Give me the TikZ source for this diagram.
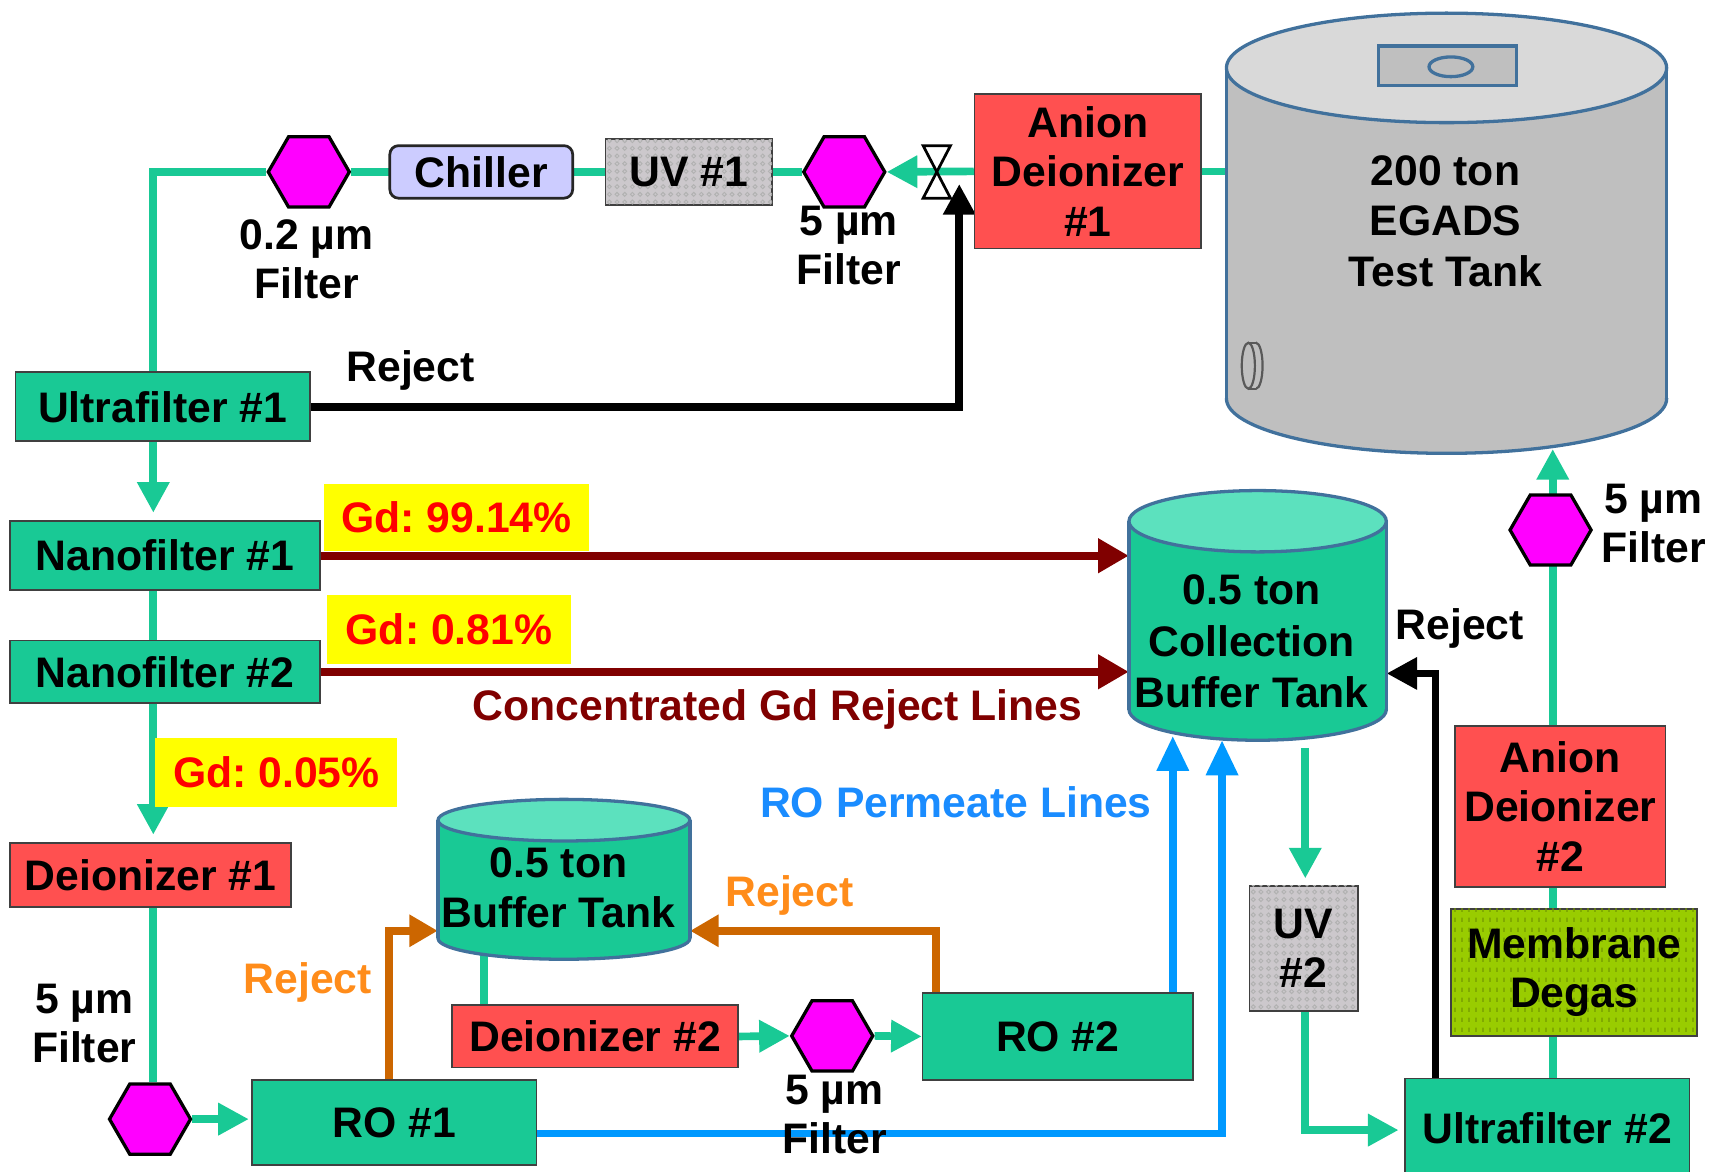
\documentclass[tikz,border=0pt]{standalone}
\usepackage{fontspec}
\setmainfont{Liberation Sans}
\usetikzlibrary{arrows.meta,shapes.geometric,backgrounds,patterns}

\definecolor{tealbox}{HTML}{19C995}
\definecolor{teallight}{HTML}{5CE1BE}
\definecolor{redbox}{HTML}{FF5050}
\definecolor{lavender}{HTML}{CCCCFF}
\definecolor{hexfill}{HTML}{FF00FF}
\definecolor{maroonline}{HTML}{800000}
\definecolor{gdyellow}{HTML}{FFFF00}
\definecolor{gdred}{HTML}{FF0000}
\definecolor{permblue}{HTML}{0099FF}
\definecolor{permtext}{HTML}{1A8CFF}
\definecolor{rejorange}{HTML}{CC6600}
\definecolor{rejtext}{HTML}{FF8C1A}
\definecolor{tankedgec}{HTML}{41719C}
\definecolor{tankside}{HTML}{BFBFBF}
\definecolor{tanktop}{HTML}{D9D9D9}
\definecolor{limebox}{HTML}{99CC00}
\definecolor{uvgray}{HTML}{CCC8CC}

% small rings for the UV lamp housings
\pgfdeclarepatternformonly{uvrings}{\pgfqpoint{-1pt}{-1pt}}{\pgfqpoint{8pt}{8pt}}{\pgfqpoint{7pt}{7pt}}{%
  \pgfsetlinewidth{0.9pt}%
  \pgfpathcircle{\pgfqpoint{3.5pt}{3.5pt}}{1.8pt}%
  \pgfusepath{stroke}}
% short vertical strokes for the degas membrane
\pgfdeclarepatternformonly{degasticks}{\pgfqpoint{0pt}{0pt}}{\pgfqpoint{6pt}{9pt}}{\pgfqpoint{6pt}{9pt}}{%
  \pgfsetlinewidth{1.2pt}%
  \pgfpathmoveto{\pgfqpoint{3pt}{2pt}}%
  \pgfpathlineto{\pgfqpoint{3pt}{6pt}}%
  \pgfusepath{stroke}}

% cylinder: centre x, top y, bottom y, x radius, y radius, body colour, lid colour
\newcommand{\cylshape}[7]{%
  \fill[#6] (#1-#4,#2) rectangle (#1+#4,#3);
  \fill[#6] (#1,#3) ellipse [x radius=#4, y radius=#5];
  \begin{scope}
    \clip (#1-#4-10,#3) rectangle (#1+#4+10,#3+#5+10);
    \draw[tankedge] (#1,#3) ellipse [x radius=#4, y radius=#5];
  \end{scope}
  \draw[tankedge] (#1-#4,#2) -- (#1-#4,#3) (#1+#4,#2) -- (#1+#4,#3);
  \filldraw[tankedge, fill=#7] (#1,#2) ellipse [x radius=#4, y radius=#5];
}

\begin{document}
\frenchspacing
\begin{tikzpicture}[x=1pt, y=-1pt,
  font=\bfseries\fontsize{39}{45}\selectfont,
  tankedge/.style={draw=tankedgec, line width=3pt},
  tankbody/.style={inner sep=0pt, draw=none},
  box/.style={draw=black!75, line width=1.5pt, inner sep=0pt, align=center, text=black},
  gbox/.style={box, fill=tealbox},
  rbox/.style={box, fill=redbox},
  uvbox/.style={box, fill=uvgray, postaction={pattern=uvrings, pattern color=black!30}},
  degasbox/.style={box, fill=limebox, postaction={pattern=degasticks, pattern color=limebox!75!black}},
  hexa/.style={regular polygon, regular polygon sides=6, minimum size=74pt, inner sep=0pt,
               draw=black, line width=3pt, fill=hexfill},
  gdlab/.style={fill=gdyellow, text=gdred, inner sep=0pt},
  lab/.style={align=center, inner sep=0pt},
  gline/.style={draw=tealbox, line width=7pt},
  garrow/.style={gline, -{Triangle[length=28pt,width=28pt]}},
  mline/.style={draw=maroonline, line width=7pt, -{Triangle[length=28pt,width=30pt]}},
  oline/.style={draw=rejorange, line width=7pt, line join=miter, -{Triangle[length=26pt,width=28pt]}},
  bline/.style={draw=permblue, line width=7pt, line join=miter, -{Triangle[length=32pt,width=28pt]}},
  kline/.style={draw=black, line width=7pt, line join=miter, -{Triangle[length=28pt,width=28pt]}}
]
\useasboundingbox (0,0) rectangle (1568,1070);

% ---------- tanks ----------
\cylshape{1321}{62}{364}{201}{50}{tankside}{tanktop}
\filldraw[tankedge, fill=tankside] (1259,42) rectangle (1385,78);
\draw[tankedge] (1325,61) ellipse [x radius=20, y radius=9];
\begin{scope}[draw=black!65, line width=2pt]
  \draw (1140,334) ellipse [x radius=6, y radius=21];
  \draw (1140,313) -- (1147,313) (1140,355) -- (1147,355);
  \begin{scope}
    \clip (1147,300) rectangle (1160,370);
    \draw (1147,334) ellipse [x radius=6, y radius=21];
  \end{scope}
\end{scope}
\node[tankbody, minimum width=402pt, minimum height=302pt] (btank) at (1321,213) {};
\node[lab, font=\bfseries\fontsize{39}{46}\selectfont] (btanklabel) at (1320,202) {200 ton\\EGADS\\Test Tank};

\cylshape{1148.5}{476}{648}{117.5}{28}{tealbox}{teallight}
\node[tankbody, minimum width=235pt, minimum height=172pt] (ctank) at (1148.5,562) {};
\node[lab, font=\bfseries\fontsize{39}{47}\selectfont] (ctanklabel) at (1143,586) {0.5 ton\\Collection\\Buffer Tank};

\cylshape{515}{749}{857}{115}{19}{tealbox}{teallight}
\node[tankbody, minimum width=230pt, minimum height=108pt] (stank) at (515,803) {};
\node[lab, font=\bfseries\fontsize{39}{46}\selectfont] (stanklabel) at (510,811) {0.5 ton\\Buffer Tank};

% ---------- process units ----------
\node[gbox, minimum width=269pt, minimum height=63pt] (uf1) at (148.5,371.5) {Ultrafilter \#1};
\node[gbox, minimum width=283pt, minimum height=63pt] (nf1) at (150.5,507.5) {Nanofilter \#1};
\node[gbox, minimum width=283pt, minimum height=57pt] (nf2) at (150.5,613.5) {Nanofilter \#2};
\node[rbox, minimum width=257pt, minimum height=58pt] (di1) at (137.5,799) {Deionizer \#1};
\node[gbox, minimum width=260pt, minimum height=78pt] (ro1) at (360,1025) {RO \#1};
\node[rbox, minimum width=261pt, minimum height=57pt] (di2) at (543.5,946.5) {Deionizer \#2};
\node[gbox, minimum width=247pt, minimum height=79pt] (ro2) at (966,946.5) {RO \#2};
\node[uvbox, minimum width=99pt, minimum height=114pt] (uv2) at (1190.5,866) {UV\\\#2};
\node[rbox, minimum width=192pt, minimum height=147pt] (ad2) at (1425,736.5) {Anion\\Deionizer\\\#2};
\node[degasbox, minimum width=225pt, minimum height=116pt] (md) at (1437.5,888) {Membrane\\Degas};
\node[gbox, minimum width=260pt, minimum height=90pt, text depth=0pt] (uf2) at (1413,1030) {Ultrafilter \#2};
\node[rbox, minimum width=207pt, minimum height=141pt] (ad1) at (993.5,156.5) {Anion\\Deionizer\\\#1};
\node[uvbox, minimum width=152pt, minimum height=60pt] (uv1) at (629,157) {UV \#1};
\node[box, draw=black!85, line width=2.5pt, fill=lavender, rounded corners=8pt,
      minimum width=167pt, minimum height=48pt] (chiller) at (439.5,157) {Chiller};

% ---------- filters ----------
\node[hexa] (hex02) at (282,157) {};
\node[hexa] (hex5) at (771,157) {};
\node[hexa] (hexR) at (1416,484) {};
\node[hexa] (hexL) at (137,1022) {};
\node[hexa] (hex2) at (760,946) {};

% ---------- valve ----------
\coordinate (valve) at (855,157);
\filldraw[draw=black, fill=white, line width=2.5pt, line join=miter]
  (843,133) -- (868,133) -- (843,181) -- (868,181) -- cycle;

% ---------- labels ----------
\node[lab] (l02) at (280,237) {0.2 µm\\Filter};
\node[lab] (l5top) at (775,224) {5 µm\\Filter};
\node[lab] (l5right) at (1510,478) {5 µm\\Filter};
\node[lab] (l5left) at (77,935) {5 µm\\Filter};
\node[lab] (l5mid) at (762,1018) {5 µm\\Filter};
\node[lab] (rej1) at (375,338) {Reject};
\node[lab] (rej2) at (1333,574) {Reject};
\node[lab, text=rejtext] (rej3) at (281,897) {Reject};
\node[lab, text=rejtext] (rej4) at (721,818) {Reject};
\node[gdlab, minimum width=242pt, minimum height=61pt] (gd1) at (417,472.5) {Gd: 99.14\%};
\node[gdlab, minimum width=222pt, minimum height=63pt] (gd2) at (410,574.5) {Gd: 0.81\%};
\node[gdlab, minimum width=221pt, minimum height=63pt] (gd3) at (252.5,705.5) {Gd: 0.05\%};
\node[lab, text=maroonline] (conc) at (710,648) {Concentrated Gd Reject Lines};
\node[lab, text=permtext] (perm) at (873,733) {RO Permeate Lines};

% ---------- pipe routing points ----------
\coordinate (cornerTL) at (140,157);
\coordinate (rejin) at (876,168);
\coordinate (oA) at (355,850);
\coordinate (oB) at (855,850);
\coordinate (sx) at (442,870);
\coordinate (bl1) at (1071,672);
\coordinate (bl2) at (1116,676);
\coordinate (bcorner) at (1116,1035);
\coordinate (ctout) at (1192,683);
\coordinate (uvturn) at (1192,1032);
\coordinate (kturn) at (1311,615);
\coordinate (tankin) at (1418,410);

% ---------- pipes ----------
\begin{scope}[on background layer]
  \draw[gline] (hex5.west) -- (hex02.east);
  \draw[gline] (hex02.west) -- (cornerTL) -- (cornerTL |- uf1.north);
  \draw[garrow, shorten >=7pt] (uf1.south -| cornerTL) -- (nf1.north -| cornerTL);
  \draw[gline] (nf1.south -| cornerTL) -- (nf2.north -| cornerTL);
  \draw[garrow, shorten >=7pt] (nf2.south -| cornerTL) -- (di1.north -| cornerTL);
  \draw[gline] (di1.south -| cornerTL) -- (hexL.north -| cornerTL);
  \draw[garrow, shorten >=2pt] (hexL.east) -- (hexL.east -| ro1.west);
  \draw[garrow] (ad1.west) -- (hex5.east);
  \draw[gline] (ad1.east) -- (ad1.east -| btank.west);
  \draw[kline] (uf1.east) -| (rejin);
  \draw[mline] (nf1.east) -- (nf1.east -| ctank.west);
  \draw[mline] (nf2.east) -- (nf2.east -| ctank.west);
  \draw[oline] (ro1.north -| oA) |- (stank.west |- oA);
  \draw[oline] (ro2.north -| oB) |- (stank.east |- oB);
  \draw[gline] (sx) -- (di2.north -| sx);
  \draw[garrow] (di2.east) -- (hex2.west);
  \draw[garrow] (hex2.east) -- (ro2.west);
  \draw[bline] (ro2.north -| bl1) -- (bl1);
  \draw[bline] (ro1.east |- bcorner) -| (bl2);
  \draw[garrow, shorten >=6pt] (ctout) -- (uv2.north -| ctout);
  \draw[garrow, shorten >=5pt] (uv2.south -| uvturn) |- (uf2.west |- uvturn);
  \draw[kline] (uf2.north -| kturn) |- (kturn -| ctank.east);
  \draw[garrow] (uf2.north -| tankin) -- (tankin);
\end{scope}
\end{tikzpicture}
\end{document}
